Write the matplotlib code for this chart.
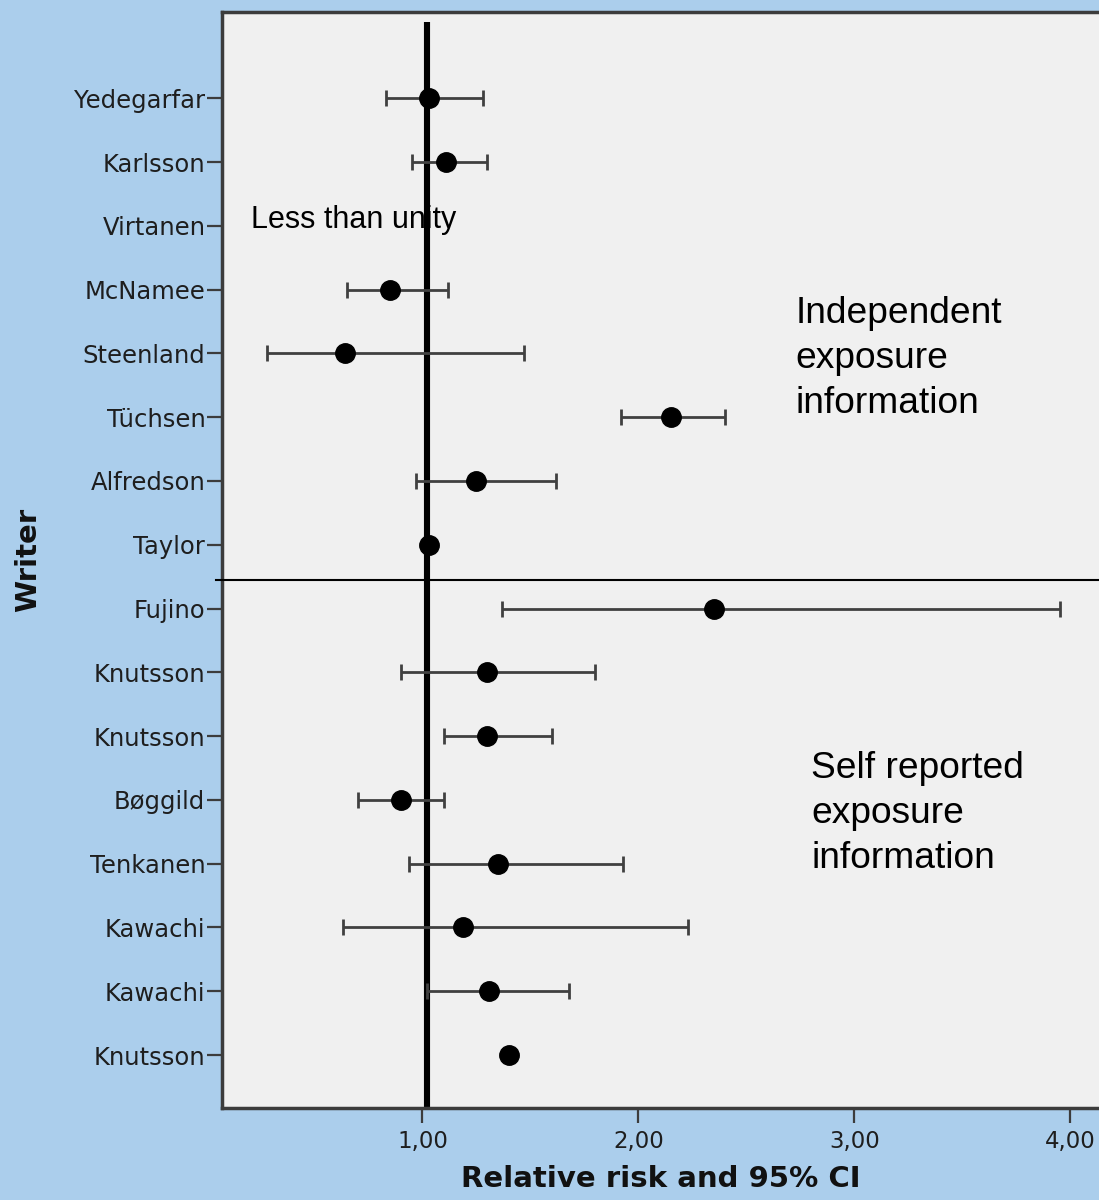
import numpy as np
import matplotlib
matplotlib.use("Agg")
import matplotlib.pyplot as plt

# study rows, top to bottom
writers = ["Yedegarfar", "Karlsson", "Virtanen", "McNamee", "Steenland",
           "Tüchsen", "Alfredson", "Taylor", "Fujino", "Knutsson",
           "Knutsson", "Bøggild", "Tenkanen", "Kawachi", "Kawachi", "Knutsson"]
nan = np.nan
rr = [1.03, 1.11, nan, 0.85, 0.64, 2.15, 1.25, 1.03,
      2.35, 1.30, 1.30, 0.90, 1.35, 1.19, 1.31, 1.40]
ci_low = [0.83, 0.95, nan, 0.65, 0.28, 1.92, 0.97, nan,
          1.37, 0.90, 1.10, 0.70, 0.94, 0.63, 1.02, nan]
ci_high = [1.28, 1.30, nan, 1.12, 1.47, 2.40, 1.62, nan,
           3.95, 1.80, 1.60, 1.10, 1.93, 2.23, 1.68, nan]

x_ticks = [1, 2, 3, 4]
x_tick_labels = ["1,00", "2,00", "3,00", "4,00"]
unity = 1.023
group_split = 7.55

bg_blue = "#ABCEEC"
panel = "#F0F0F0"

fig = plt.figure(figsize=(10.99, 12), dpi=100, facecolor=bg_blue)
ax = fig.add_axes([0.202, 0.0767, 0.798, 0.9137], facecolor=panel)

y = np.arange(len(writers))
rr_a = np.array(rr)
lo = np.array(ci_low)
hi = np.array(ci_high)
has_ci = ~np.isnan(lo)

# reference line at unity
ax.plot([unity, unity], [-1.2, 15.83], color="black", lw=4.4,
        solid_capstyle="butt", zorder=2)

# confidence intervals
ax.errorbar(rr_a[has_ci], y[has_ci],
            xerr=[rr_a[has_ci] - lo[has_ci], hi[has_ci] - rr_a[has_ci]],
            fmt="none", ecolor="#404040", elinewidth=2.0, capsize=6,
            capthick=2.0, zorder=3)
ax.plot(rr_a, y, "o", color="black", markersize=14, zorder=4)

# line between the two exposure groups
ax.plot([0.043, 4.3], [group_split, group_split], color="black", lw=1.5,
        clip_on=False, zorder=3)

ax.text(0.206, 2.03, "Less than unity", fontsize=22, va="baseline",
        family="Liberation Sans", color="black", zorder=5)
for i, line in enumerate(["Independent", "exposure", "information"]):
    ax.text(2.727, 3.527 + 0.705 * i, line, fontsize=26.7, va="baseline",
            family="Liberation Sans", color="black")
for i, line in enumerate(["Self reported", "exposure", "information"]):
    ax.text(2.799, 10.654 + 0.705 * i, line, fontsize=26.7, va="baseline",
            family="Liberation Sans", color="black")

ax.set_xlim(0.072, 4.132)
ax.set_ylim(15.83, -1.36)

ax.set_yticks(y)
ax.set_yticklabels(writers, fontsize=17.5, color="#1e1e1e")
ax.set_xticks(x_ticks)
ax.set_xticklabels(x_tick_labels, fontsize=16.5, color="#1e1e1e")
ax.tick_params(axis="y", length=11, width=1.6, color="#3c3c3c", pad=1)
ax.tick_params(axis="x", length=11, width=1.6, color="#3c3c3c", pad=5)

for side in ["left", "bottom", "top"]:
    ax.spines[side].set_color("#3c3c3c")
    ax.spines[side].set_linewidth(2.5)
ax.spines["right"].set_visible(False)

ax.set_xlabel("Relative risk and 95% CI", fontsize=21, fontweight="bold",
              color="#111111")
ax.set_ylabel("Writer", fontsize=21, fontweight="bold", color="#111111")
ax.xaxis.set_label_coords(0.5, -0.052)
ax.yaxis.set_label_coords(-0.205, 0.5)

fig.savefig("out.png", dpi=100, facecolor=bg_blue)
